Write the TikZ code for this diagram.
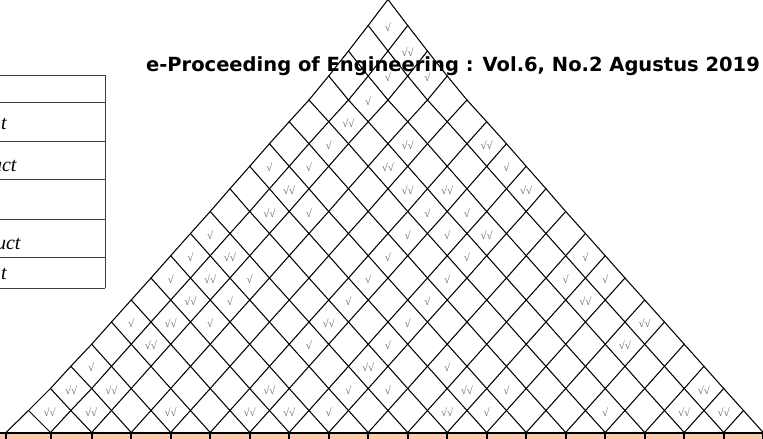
\documentclass[tikz,border=0pt]{standalone}
\usepackage{fontspec}
\setmainfont{Liberation Serif}
\newfontfamily\headfont{DejaVu Sans}
\usetikzlibrary{calc}
\definecolor{peach}{RGB}{250,204,172}
\definecolor{markgray}{RGB}{105,105,105}
\definecolor{tabline}{RGB}{60,60,60}
\tikzset{
  gridline/.style={line width=1.05pt,line cap=round,black},
  chk/.style={text=markgray,font=\fontsize{11}{11}\selectfont,inner sep=0pt},
  tabrule/.style={line width=0.9pt,tabline},
  tabtext/.style={font=\fontsize{20}{20}\selectfont\itshape,inner sep=0pt,anchor=base east},
  headtext/.style={font=\headfont\bfseries\fontsize{19.5}{20}\selectfont,inner sep=0pt},
  basebar/.style={line width=2pt,black},
}
\def\Ylist{{432.5,410.5,388.5,366.3,344.2,322,300,278,255.7,233.5,211.5,188.7,166.3,143.7,121.7,100,76,51,25.5,-0.5}}
\begin{document}
\begin{tikzpicture}[x=1pt,y=-1pt]
\useasboundingbox (0,0) rectangle (763,439);
% lattice points
\foreach \m in {0,...,19} {
  \pgfmathtruncatemacro\kmax{19-\m}
  \foreach \k in {0,...,\kmax} {
    \pgfmathtruncatemacro\u{\m+2*\k}
    \pgfmathsetmacro\xx{\u==0 ? 6 : (\u==1 ? 28.5 : (\u==2 ? 50.5 : (\u==3 ? 70.8 : 12.7+19.75*\u)))}
    \pgfmathsetmacro\yy{\Ylist[\m]}
    \coordinate (p-\u-\m) at (\xx,\yy);
  }
}
% base band
\fill[peach] (0,433) rectangle (763,440);
% grid lines
\foreach \m in {0,...,18} {
  \pgfmathtruncatemacro\kmax{19-\m}
  \pgfmathtruncatemacro\mn{\m+1}
  \pgfmathtruncatemacro\lim{36-\m}
  \pgfmathtruncatemacro\lom{\m+2}
  \foreach \k in {0,...,\kmax} {
    \pgfmathtruncatemacro\u{\m+2*\k}
    \pgfmathtruncatemacro\ur{\u+1}
    \pgfmathtruncatemacro\ul{\u-1}
    \ifnum\u>\lim\else \draw[gridline] (p-\u-\m) -- (p-\ur-\mn); \fi
    \ifnum\u<\lom\else \draw[gridline] (p-\u-\m) -- (p-\ul-\mn); \fi
  }
}
% base bar and ticks
\draw[basebar] (0,433) -- (763,433);
\foreach \k in {0,...,19} {
  \pgfmathtruncatemacro\u{2*\k}
  \draw[basebar] (p-\u-0) -- ++(0,7);
}
% check marks: u/m/count
\foreach \u/\m/\t in {
  19/18/1, 20/17/2, 19/16/1, 21/16/1, 18/15/1, 17/14/2,
  16/13/1, 20/13/2, 24/13/2,
  13/12/1, 15/12/1, 19/12/2, 25/12/1,
  14/11/2, 20/11/2, 22/11/2, 26/11/2,
  13/10/2, 15/10/1, 21/10/1, 23/10/1,
  10/9/1, 20/9/1, 22/9/1, 24/9/2,
  9/8/1, 11/8/2, 19/8/1, 23/8/1, 29/8/1,
  8/7/1, 10/7/2, 12/7/1, 18/7/1, 22/7/1, 28/7/1, 30/7/1,
  9/6/2, 11/6/1, 17/6/1, 21/6/1, 29/6/2,
  6/5/1, 8/5/2, 10/5/1, 16/5/2, 20/5/1, 32/5/2,
  7/4/2, 15/4/1, 19/4/1, 31/4/2,
  4/3/1, 18/3/2, 22/3/1,
  3/2/2, 5/2/2, 13/2/2, 17/2/1, 19/2/1, 23/2/2, 25/2/1, 35/2/2,
  2/1/2, 4/1/2, 8/1/2, 12/1/2, 14/1/2, 16/1/1, 22/1/2, 24/1/1, 30/1/1, 34/1/2, 36/1/2} {
  \pgfmathtruncatemacro\ur{\u+1}
  \pgfmathtruncatemacro\ul{\u-1}
  \node[chk] (c-\u-\m) at ($(p-\ul-\m)!0.5!(p-\ur-\m)+(0,1.2)$) {\ifnum\t=1 √\else √√\fi};
}
% header
\node[headtext,anchor=base east] (hdr) at (760,71.5) {e-Proceeding of Engineering : Vol.6, No.2 Agustus 2019};
% left table
\foreach \yy [count=\i] in {75,102.7,141,179.3,219.3,257.3,288.3} {
  \draw[tabrule] (-2,\yy) -- (105,\yy);
}
\draw[tabrule] (105,75) -- (105,288.3);
\node[tabtext] (t2) at (7,129) {t};
\node[tabtext] (t3) at (16.7,171.5) {uct};
\node[tabtext] (t5) at (20.7,249) {uct};
\node[tabtext] (t6) at (7,279) {t};
\end{tikzpicture}
\end{document}
